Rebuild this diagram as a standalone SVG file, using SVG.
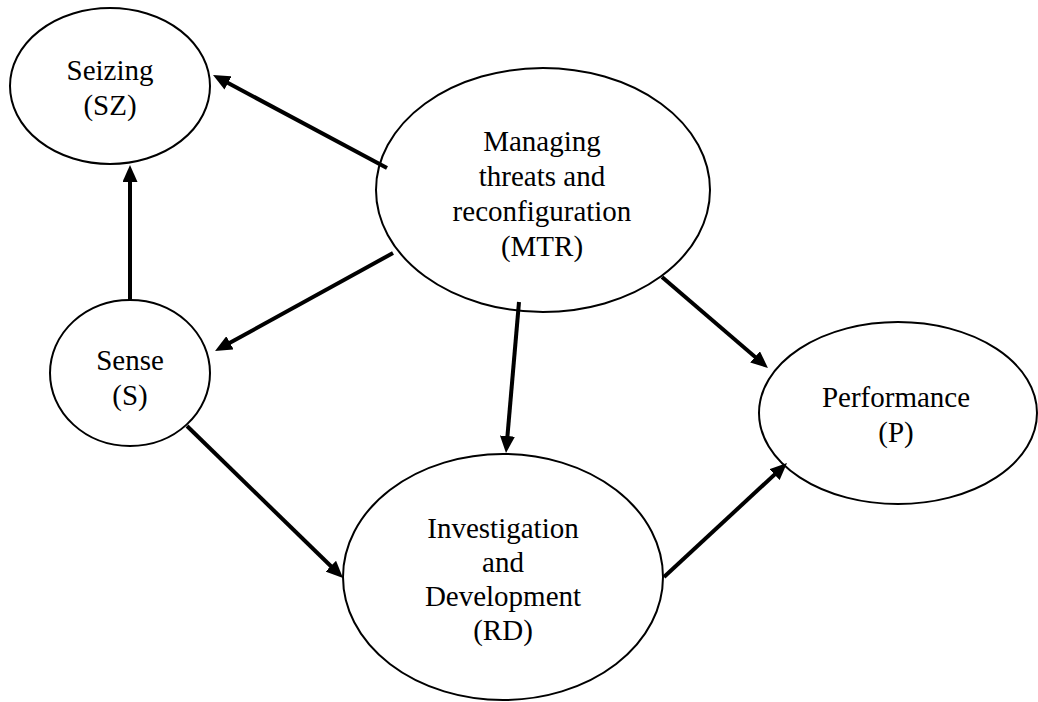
<svg xmlns="http://www.w3.org/2000/svg" width="1038" height="702" viewBox="0 0 1038 702">
<style>
.node ellipse{fill:#fff;stroke:#000;stroke-width:2}
.node text{font-family:"Liberation Serif","Times New Roman",serif;font-size:29px;fill:#000;text-anchor:middle}
.conn line{stroke:#000;stroke-width:4;marker-end:url(#ah)}
</style>
<defs>
<marker id="ah" viewBox="0 0 17 15" refX="11" refY="7.5" markerWidth="17" markerHeight="15" markerUnits="userSpaceOnUse" orient="auto">
<path d="M0,0 L17,7.5 L0,15 z" fill="#000"/>
</marker>
</defs>
<rect width="1038" height="702" fill="#fff"/>
<g id="SZ" class="node">
<ellipse cx="110" cy="86" rx="100" ry="78"/>
<text x="110" y="80">Seizing</text>
<text x="110" y="115">(SZ)</text>
</g>
<g id="MTR" class="node">
<ellipse cx="543" cy="190" rx="167" ry="122"/>
<text x="542" y="151">Managing</text>
<text x="542" y="186">threats and</text>
<text x="542" y="221">reconfiguration</text>
<text x="542" y="256">(MTR)</text>
</g>
<g id="S" class="node">
<ellipse cx="130" cy="373" rx="80" ry="73"/>
<text x="130" y="370">Sense</text>
<text x="130" y="405">(S)</text>
</g>
<g id="RD" class="node">
<ellipse cx="503" cy="577" rx="160" ry="123"/>
<text x="503" y="538">Investigation</text>
<text x="503" y="572">and</text>
<text x="503" y="606">Development</text>
<text x="503" y="640">(RD)</text>
</g>
<g id="P" class="node">
<ellipse cx="898" cy="413" rx="139" ry="91"/>
<text x="896" y="407">Performance</text>
<text x="896" y="442">(P)</text>
</g>
<g id="connectors" class="conn">
<line x1="387" y1="168" x2="218.3" y2="77.8"/>
<line x1="130" y1="300" x2="130" y2="171"/>
<line x1="393" y1="253" x2="220.3" y2="348.1"/>
<line x1="187" y1="426" x2="338.7" y2="573.8"/>
<line x1="519" y1="302" x2="506.5" y2="447"/>
<line x1="662" y1="277" x2="763.4" y2="364.1"/>
<line x1="664" y1="577" x2="782.6" y2="467.1"/>
</g>
</svg>
